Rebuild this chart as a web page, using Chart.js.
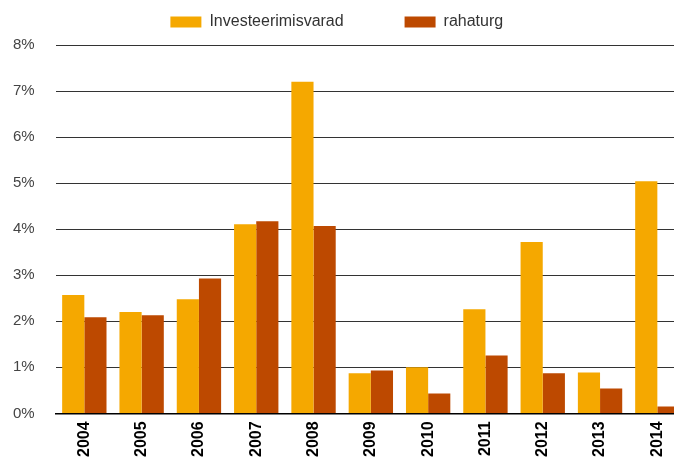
<!DOCTYPE html>
<html>
<head>
<meta charset="utf-8">
<script src="https://cdn.jsdelivr.net/npm/chart.js@4.4.1/dist/chart.umd.min.js"></script>
<style>
  html, body { margin: 0; padding: 0; background: #fff; overflow: hidden; }
  /* the plot runs past the right edge of the window, as in the original */
  #wrap { width: 686px; height: 459px; }
</style>
</head>
<body>
<div id="wrap"><canvas id="barChart"></canvas></div>
<script>
const years = ['2004', '2005', '2006', '2007', '2008', '2009', '2010', '2011', '2012', '2013', '2014']
const investeerimisvarad = [2.57, 2.20, 2.48, 4.11, 7.20, 0.87, 1.00, 2.26, 3.72, 0.89, 5.04]
const rahaturg = [2.09, 2.13, 2.93, 4.17, 4.07, 0.93, 0.43, 1.26, 0.87, 0.54, 0.15]
const yTicks = [0, 1, 2, 3, 4, 5, 6, 7, 8]

// extra trailing space widens the gap between legend items
const legendPad = ['           ', ' ']

// a bit of room between legend and plot
const legendMargin = {
    id: 'legendMargin',
    beforeLayout(chart) {
        const legend = chart.legend
        if (!legend || legend._patched) return
        const fit = legend.fit
        legend.fit = function () {
            fit.call(this)
            this.height += 5
        }
        legend._patched = true
    }
}

const ctx = document.getElementById('barChart')
const myChart = new Chart(ctx, {
    type: 'bar',
    data: {
        labels: years,
        datasets: [{
            label: 'Investeerimisvarad',
            data: investeerimisvarad,
            backgroundColor: '#F5A800'
        }, {
            label: 'rahaturg',
            data: rahaturg,
            backgroundColor: '#BD4900'
        }]
    },
    options: {
        maintainAspectRatio: false,
        animation: false,
        categoryPercentage: 0.774,
        barPercentage: 1,
        layout: {
            padding: { left: -8, right: 0, top: 2, bottom: -6 }
        },
        scales: {
            y: {
                min: 0,
                max: 8,
                afterBuildTicks: (axis) => {
                    axis.ticks = yTicks.map(v => ({ value: v }))
                },
                border: { display: false },
                grid: {
                    color: '#333',
                    lineWidth: 1,
                    drawTicks: false
                },
                ticks: {
                    padding: 21,
                    color: '#444',
                    font: { family: 'Liberation Sans', size: 15 },
                    callback: (v) => v + '%'
                }
            },
            x: {
                border: { display: true, color: '#000', width: 1.5 },
                grid: {
                    display: false,
                    drawTicks: false
                },
                ticks: {
                    padding: 8,
                    minRotation: 90,
                    maxRotation: 90,
                    color: '#000',
                    font: { family: 'Liberation Sans', size: 16, weight: 'bold' }
                }
            }
        },
        plugins: {
            legend: {
                position: 'top',
                labels: {
                    boxWidth: 31,
                    boxHeight: 11,
                    padding: 12,
                    color: '#333',
                    font: { family: 'Liberation Sans', size: 16 },
                    generateLabels: (chart) => {
                        const items = Chart.defaults.plugins.legend.labels.generateLabels(chart)
                        items.forEach((it, i) => { it.text = it.text + legendPad[i] })
                        return items
                    }
                }
            },
            tooltip: { enabled: false }
        }
    },
    plugins: [legendMargin]
})
</script>
</body>
</html>
